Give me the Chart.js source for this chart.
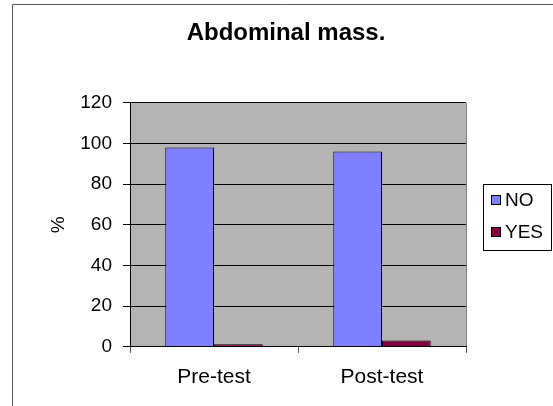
<!DOCTYPE html>
<html>
<head>
<meta charset="utf-8">
<title>Abdominal mass.</title>
<script src="https://cdn.jsdelivr.net/npm/chart.js@4"></script>
<style>
    html, body { margin: 0; padding: 0; background: #fff; }
    canvas { display: block; }
</style>
</head>
<body>
<canvas id="chart" width="553" height="406"></canvas>
<script>
const categories = ['Pre-test', 'Post-test'];
const noValues = [98, 96];
const yesValues = [1.3, 3.1];
const yTicks = [0, 20, 40, 60, 80, 100, 120];

const colours = { NO: '#8080ff', YES: '#800040' };
const fontFamily = 'Arial, "Liberation Sans", sans-serif';

// grey plot area, thin outer frame
const plotBackground = {
    id: 'plotBackground',
    beforeDraw(chart) {
        const ctx = chart.ctx;
        const a = chart.chartArea;
        ctx.save();
        ctx.fillStyle = '#b4b4b4';
        ctx.fillRect(a.left, a.top, a.right - a.left, a.bottom - a.top);
        ctx.strokeStyle = '#808080';
        ctx.lineWidth = 1;
        ctx.beginPath();
        ctx.moveTo(a.right + 0.5, a.top);
        ctx.lineTo(a.right + 0.5, a.bottom);
        ctx.stroke();
        ctx.strokeStyle = '#555';
        ctx.beginPath();
        ctx.moveTo(12.5, chart.height);
        ctx.lineTo(12.5, 4.5);
        ctx.lineTo(chart.width, 4.5);
        ctx.stroke();
        ctx.restore();
    }
};

// legend in a box on the right, like the excel one
const boxLegend = {
    id: 'boxLegend',
    afterDraw(chart) {
        const ctx = chart.ctx;
        ctx.save();
        ctx.strokeStyle = '#000';
        ctx.lineWidth = 1;
        ctx.strokeRect(483.5, 184.5, 68, 66);
        ctx.font = '19px ' + fontFamily;
        ctx.textBaseline = 'middle';
        chart.data.datasets.forEach((ds, i) => {
            const y = 200 + i * 32;
            ctx.fillStyle = ds.backgroundColor;
            ctx.fillRect(491.5, y - 4.5, 9, 9);
            ctx.strokeRect(491.5, y - 4.5, 9, 9);
            ctx.fillStyle = '#000';
            ctx.fillText(ds.label, 505, y + 1);
        });
        ctx.restore();
    }
};

new Chart(document.getElementById('chart'), {
    type: 'bar',
    data: {
        labels: categories,
        datasets: [{
            label: 'NO',
            data: noValues,
            backgroundColor: colours.NO,
            borderColor: '#000',
            borderWidth: 1
        }, {
            label: 'YES',
            data: yesValues,
            backgroundColor: colours.YES,
            borderColor: '#000',
            borderWidth: 1
        }]
    },
    options: {
        responsive: false,
        animation: false,
        layout: { padding: { left: 19, right: 0, top: 0, bottom: 4 } },
        datasets: {
            bar: { categoryPercentage: 0.58, barPercentage: 1 }
        },
        plugins: {
            legend: { display: false },
            tooltip: { enabled: false },
            title: {
                display: true,
                text: 'Abdominal mass.',
                color: '#000',
                font: { family: fontFamily, size: 24, weight: 'bold' },
                padding: { top: 19, bottom: 55 }
            }
        },
        scales: {
            x: {
                grid: { drawOnChartArea: false, tickLength: 6, color: '#555' },
                border: { color: '#000' },
                ticks: {
                    color: '#000',
                    padding: 12,
                    font: { family: fontFamily, size: 21 }
                }
            },
            y: {
                min: 0,
                max: 120,
                afterFit(scale) { scale.width = 111; },
                afterBuildTicks(scale) { scale.ticks = yTicks.map(v => ({ value: v })); },
                grid: { color: '#000', tickLength: 7 },
                border: { color: '#000' },
                ticks: {
                    color: '#000',
                    padding: 11,
                    font: { family: fontFamily, size: 19 }
                },
                title: {
                    display: true,
                    text: '%',
                    color: '#000',
                    padding: 28,
                    font: { family: fontFamily, size: 19 }
                }
            },
            // empty axis on the right, keeps room for the legend box
            legendSpace: {
                position: 'right',
                afterFit(scale) { scale.width = 87; },
                grid: { display: false },
                border: { display: false },
                ticks: { display: false }
            }
        }
    },
    plugins: [plotBackground, boxLegend]
});
</script>
</body>
</html>
